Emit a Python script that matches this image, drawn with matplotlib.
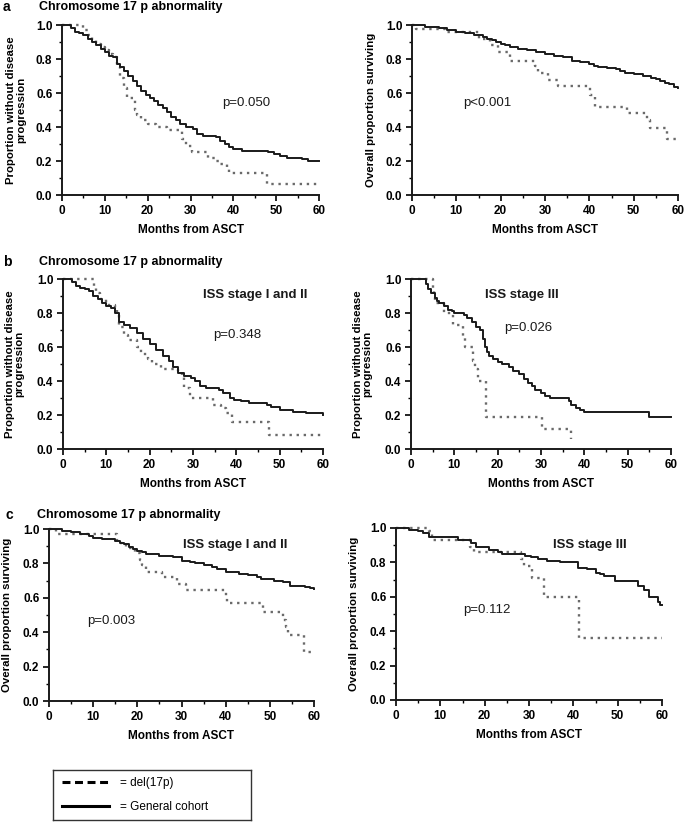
import matplotlib
matplotlib.use("Agg")
import matplotlib.pyplot as plt
from matplotlib.lines import Line2D
from matplotlib.ticker import MultipleLocator

# --- Configuration ---
plt.rcParams.update({
    "font.family": ["Liberation Sans", "DejaVu Sans"],
    "font.size": 8,
})

W, H = 685, 822

# --- Data (Kaplan-Meier steps) ---
# a: whole cohort, PFS
a_pfs_gen_t = [0, 2, 3, 4, 5, 6, 7, 8, 9, 10, 11, 12, 12.8, 13.5, 14.5, 15.5, 16.5, 17.5, 18.5, 19.5,
               20.5, 21.5, 22.5, 23.5, 24.5, 25.5, 26.5, 27.5, 29, 30.5, 31.5, 33, 36, 37, 38, 39, 40,
               42, 46, 48, 49.5, 51, 52.5, 54, 56, 57.5, 60]
a_pfs_gen_s = [1.0, 0.98, 0.96, 0.95, 0.94, 0.92, 0.90, 0.88, 0.86, 0.84, 0.82, 0.81, 0.77, 0.75, 0.73,
               0.70, 0.67, 0.64, 0.61, 0.59, 0.57, 0.55, 0.53, 0.51, 0.49, 0.46, 0.44, 0.42, 0.40, 0.39,
               0.36, 0.345, 0.34, 0.32, 0.30, 0.28, 0.27, 0.26, 0.26, 0.25, 0.24, 0.23, 0.22, 0.215,
               0.21, 0.20, 0.20]
a_pfs_del_t = [0, 5, 6, 7, 8, 9, 10, 11, 12, 12.8, 13.5, 14.5, 15.2, 17, 17.5, 18.5, 20, 22, 24.5, 28,
               29, 30.3, 34.2, 36, 37, 38.5, 39, 47.8, 60]
a_pfs_del_s = [1.0, 0.97, 0.94, 0.91, 0.89, 0.87, 0.85, 0.83, 0.81, 0.75, 0.69, 0.63, 0.57, 0.50, 0.47,
               0.44, 0.42, 0.40, 0.38, 0.33, 0.29, 0.25, 0.22, 0.20, 0.18, 0.16, 0.13, 0.065, 0.065]

# a: whole cohort, OS
a_os_gen_t = [0, 3, 6, 8, 10, 12, 14, 16, 17, 18, 19, 20, 21, 22, 24, 26, 28, 30, 32, 34, 36, 38, 40,
              41, 42, 44, 46, 47, 48, 50, 52, 54, 55, 56, 57, 58, 59, 60]
a_os_gen_s = [1.0, 0.99, 0.98, 0.97, 0.96, 0.95, 0.94, 0.93, 0.92, 0.91, 0.90, 0.89, 0.88, 0.87, 0.86,
              0.85, 0.84, 0.83, 0.82, 0.81, 0.79, 0.78, 0.77, 0.76, 0.75, 0.745, 0.74, 0.73, 0.72,
              0.71, 0.70, 0.69, 0.68, 0.67, 0.66, 0.65, 0.635, 0.63]
a_os_del_t = [0, 1, 7.5, 15, 17.5, 19.5, 22, 27.7, 28.5, 30.7, 33, 40.2, 41.3, 48.5, 53, 53.7, 57.5, 60]
a_os_del_s = [1.0, 0.976, 0.96, 0.92, 0.88, 0.84, 0.79, 0.76, 0.72, 0.675, 0.64, 0.59, 0.52, 0.485,
              0.44, 0.395, 0.33, 0.33]

# b: PFS by ISS stage
b_iss12_gen_t = [0, 2, 3, 4, 5, 6, 7, 8, 9, 10, 11, 12, 13, 14, 15.5, 17, 18.5, 20, 21.5, 23, 24.5,
                 25.5, 26.5, 28, 29.5, 30.5, 31.5, 33, 36, 37, 38.5, 39.5, 41, 43, 47, 48, 50, 53, 56, 60]
b_iss12_gen_s = [1.0, 0.98, 0.96, 0.95, 0.94, 0.93, 0.90, 0.88, 0.86, 0.84, 0.83, 0.80, 0.75, 0.73,
                 0.71, 0.68, 0.65, 0.62, 0.58, 0.55, 0.52, 0.48, 0.45, 0.43, 0.42, 0.40, 0.37, 0.36,
                 0.35, 0.33, 0.30, 0.29, 0.28, 0.27, 0.26, 0.25, 0.23, 0.22, 0.21, 0.20]
b_iss12_del_t = [0, 7.1, 7.5, 8.5, 10, 12, 12.5, 13, 14, 15, 17, 18, 19.5, 20.5, 22.5, 26.5, 27.5, 28,
                 29.3, 34.5, 36.5, 37.5, 39, 47.5, 60]
b_iss12_del_s = [1.0, 0.95, 0.92, 0.88, 0.85, 0.82, 0.80, 0.72, 0.67, 0.64, 0.60, 0.56, 0.53, 0.50,
                 0.47, 0.46, 0.43, 0.36, 0.30, 0.26, 0.24, 0.21, 0.16, 0.08, 0.08]
b_iss3_gen_t = [0, 3.5, 4, 4.5, 5.5, 6, 6.5, 7.5, 8.5, 9.5, 10, 12.2, 13, 14, 15, 16, 16.5, 17, 17.5,
                18, 19, 20, 21, 22.5, 23.5, 25, 26, 27, 28, 28.5, 30, 31, 32, 36.5, 37, 38, 39, 40, 55, 60]
b_iss3_gen_s = [1.0, 0.97, 0.94, 0.92, 0.89, 0.87, 0.86, 0.84, 0.82, 0.81, 0.80, 0.79, 0.77, 0.75,
                0.72, 0.70, 0.65, 0.60, 0.57, 0.55, 0.53, 0.51, 0.50, 0.48, 0.46, 0.44, 0.41, 0.39,
                0.37, 0.35, 0.33, 0.31, 0.30, 0.28, 0.26, 0.24, 0.23, 0.22, 0.19, 0.19]
b_iss3_del_t = [0, 5, 5.3, 5.6, 7.5, 9.7, 11.9, 12.5, 14.4, 14.8, 15.5, 17.2, 30.2, 37]
b_iss3_del_s = [1.0, 0.95, 0.90, 0.86, 0.80, 0.73, 0.66, 0.60, 0.52, 0.47, 0.40, 0.19, 0.12, 0.06]

# c: OS by ISS stage
c_iss12_gen_t = [0, 3, 5, 7, 9, 10, 12, 15, 16, 17, 18, 19, 20, 21, 22, 25, 28, 30, 32, 33, 35, 37,
                 38, 40, 43, 45, 47, 48, 51, 53, 54.5, 58, 59, 60]
c_iss12_gen_s = [1.0, 0.99, 0.98, 0.97, 0.96, 0.95, 0.94, 0.93, 0.92, 0.91, 0.895, 0.885, 0.875,
                 0.865, 0.855, 0.845, 0.835, 0.815, 0.81, 0.805, 0.79, 0.78, 0.77, 0.75, 0.74, 0.73,
                 0.72, 0.71, 0.70, 0.69, 0.67, 0.66, 0.655, 0.65]
c_iss12_del_t = [0, 1.5, 15.5, 17.5, 19.5, 20.5, 21, 22, 25.5, 29, 31, 40, 40.3, 48.5, 53, 53.6, 54,
                 57.8, 60]
c_iss12_del_s = [1.0, 0.97, 0.92, 0.89, 0.86, 0.82, 0.79, 0.75, 0.72, 0.68, 0.645, 0.61, 0.57, 0.52,
                 0.47, 0.43, 0.385, 0.285, 0.285]
c_iss3_gen_t = [0, 3, 5, 6, 7.5, 14, 17, 18, 21, 23, 24, 29, 30.5, 32, 34, 37, 41, 43, 45, 46, 47,
                49.5, 54.5, 56, 57, 59, 59.5, 60]
c_iss3_gen_s = [1.0, 0.99, 0.98, 0.97, 0.95, 0.93, 0.91, 0.89, 0.87, 0.86, 0.85, 0.84, 0.83, 0.82,
                0.81, 0.80, 0.77, 0.76, 0.74, 0.73, 0.72, 0.69, 0.66, 0.64, 0.60, 0.57, 0.55, 0.55]
c_iss3_del_t = [0, 7.5, 8.2, 16.8, 17.5, 28.3, 28.8, 30.7, 33.3, 41.3, 60]
c_iss3_del_s = [1.0, 0.98, 0.93, 0.89, 0.86, 0.82, 0.78, 0.71, 0.60, 0.36, 0.36]

pfs_label = "Proportion without disease\nprogression"
os_label = "Overall proportion surviving"

# box = (x0, x1, ytop, ybot) in pixels; texts = (x, y, string, bold)
panels = [
    dict(box=(62, 319, 25, 195), gen=(a_pfs_gen_t, a_pfs_gen_s), dele=(a_pfs_del_t, a_pfs_del_s),
         ylabel=pfs_label, lx=-0.178, texts=[(43, 0.54, "p=0.050", False)]),
    dict(box=(412, 678, 25, 195), gen=(a_os_gen_t, a_os_gen_s), dele=(a_os_del_t, a_os_del_s),
         ylabel=os_label, lx=-0.155, texts=[(17, 0.54, "p<0.001", False)]),
    dict(box=(63, 323, 279, 449), gen=(b_iss12_gen_t, b_iss12_gen_s), dele=(b_iss12_del_t, b_iss12_del_s),
         ylabel=pfs_label, lx=-0.185,
         texts=[(44.3, 0.905, "ISS stage I and II", True), (40.2, 0.67, "p=0.348", False)]),
    dict(box=(411, 671, 279, 449), gen=(b_iss3_gen_t, b_iss3_gen_s), dele=(b_iss3_del_t, b_iss3_del_s),
         ylabel=pfs_label, lx=-0.185,
         texts=[(25.6, 0.905, "ISS stage III", True), (27, 0.71, "p=0.026", False)]),
    dict(box=(49, 314, 529, 701), gen=(c_iss12_gen_t, c_iss12_gen_s), dele=(c_iss12_del_t, c_iss12_del_s),
         ylabel=os_label, lx=-0.160,
         texts=[(42.1, 0.907, "ISS stage I and II", True), (14.2, 0.465, "p=0.003", False)]),
    dict(box=(396, 662, 528, 700), gen=(c_iss3_gen_t, c_iss3_gen_s), dele=(c_iss3_del_t, c_iss3_del_s),
         ylabel=os_label, lx=-0.158,
         texts=[(43.8, 0.90, "ISS stage III", True), (20.5, 0.523, "p=0.112", False)]),
]

# --- Plotting ---
fig = plt.figure(figsize=(W / 100, H / 100), dpi=100)

for p in panels:
    x0, x1, yt, yb = p["box"]
    ax = fig.add_axes([x0 / W, 1 - yb / H, (x1 - x0) / W, (yb - yt) / H])
    ax.plot(*p["dele"], drawstyle="steps-post", color="#6a6a6a", lw=1.7,
            linestyle=(0, (1, 2.0)), clip_on=False)
    ax.plot(*p["gen"], drawstyle="steps-post", color="#1a1a1a", lw=1.4, clip_on=False)

    ax.set_xlim(0, 60)
    ax.set_ylim(0, 1.0)
    ax.xaxis.set_major_locator(MultipleLocator(10))
    ax.xaxis.set_minor_locator(MultipleLocator(5))
    ax.yaxis.set_major_locator(MultipleLocator(0.2))
    ax.yaxis.set_minor_locator(MultipleLocator(0.1))
    ax.yaxis.set_major_formatter(plt.FuncFormatter(lambda v, _: f"{v:.1f}"))
    for side in ("top", "right"):
        ax.spines[side].set_visible(False)
    for side in ("left", "bottom"):
        ax.spines[side].set_linewidth(1.4)
        ax.spines[side].set_color("#1a1a1a")
    ax.tick_params(which="major", direction="out", length=4, width=1.2, pad=3, labelsize=8.5)
    ax.tick_params(which="minor", direction="out", length=2.5, width=1.0)
    for lab in ax.get_xticklabels() + ax.get_yticklabels():
        lab.set_fontweight("bold")

    ax.set_xlabel("Months from ASCT", fontsize=8.5, fontweight="bold", labelpad=5)
    ax.set_ylabel(p["ylabel"], fontsize=8.2, fontweight="bold", linespacing=0.95)
    ax.yaxis.label.set_verticalalignment("center")
    ax.yaxis.set_label_coords(p["lx"], 0.5)

    for tx, ty, s, bold in p["texts"]:
        ax.text(tx, ty, s, ha="center", va="center", fontsize=9.5,
                fontweight="bold" if bold else "normal", color="#1a1a1a")

# section headers
for letter, lx, tx, y in [("a", 3, 39, 7), ("b", 3, 39, 262), ("c", 5, 37, 515)]:
    fig.text(lx / W, 1 - y / H, letter, fontsize=10, fontweight="bold", va="center", ha="left")
    fig.text(tx / W, 1 - y / H, "Chromosome 17 p abnormality", fontsize=9, fontweight="bold",
             va="center", ha="left")

# legend box
lax = fig.add_axes([53 / W, 1 - 820 / H, 198 / W, 50 / H])
lax.set_xticks([])
lax.set_yticks([])
for sp in lax.spines.values():
    sp.set_linewidth(1.0)
    sp.set_color("#333333")
handles = [Line2D([], [], color="black", lw=2.2, linestyle=(0, (2.6, 1.5))),
           Line2D([], [], color="black", lw=2.2)]
lax.legend(handles, ["= del(17p)", "= General cohort"], loc="center left", frameon=False,
           fontsize=8.5, handlelength=4.0, handletextpad=0.9, labelspacing=1.0,
           borderaxespad=0.0, bbox_to_anchor=(0.02, 0.5))

fig.savefig("out.png", dpi=100)
